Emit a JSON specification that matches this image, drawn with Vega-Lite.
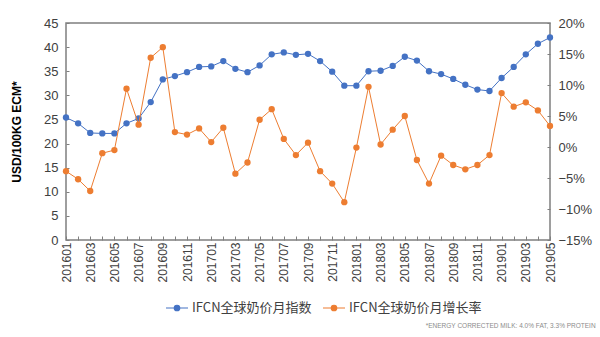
{
  "$schema": "https://vega.github.io/schema/vega-lite/v6.json",
  "autosize": "none",
  "width": 484,
  "height": 217,
  "padding": {"left": 66, "top": 23, "right": 50, "bottom": 97},
  "background": "white",
  "config": {
    "font": "Liberation Sans",
    "view": {"stroke": "#7f7f7f", "strokeWidth": 1.5},
    "axis": {"grid": false, "labelColor": "#404040", "domainColor": "#7f7f7f", "tickColor": "#7f7f7f"}
  },
  "title": {
    "text": "*ENERGY CORRECTED MILK: 4.0% FAT, 3.3% PROTEIN",
    "orient": "bottom",
    "anchor": "end",
    "fontSize": 6.5,
    "fontWeight": "normal",
    "color": "#8c8c8c",
    "dx": 4,
    "offset": 8
  },
  "datasets": {
    "milk": [
      {"month": "201601", "index": 25.4, "rate": -0.039},
      {"month": "201602", "index": 24.2, "rate": -0.052},
      {"month": "201603", "index": 22.2, "rate": -0.071},
      {"month": "201604", "index": 22.1, "rate": -0.010},
      {"month": "201605", "index": 22.1, "rate": -0.005},
      {"month": "201606", "index": 24.2, "rate": 0.094},
      {"month": "201607", "index": 25.2, "rate": 0.036},
      {"month": "201608", "index": 28.6, "rate": 0.144},
      {"month": "201609", "index": 33.3, "rate": 0.161},
      {"month": "201610", "index": 34.0, "rate": 0.024},
      {"month": "201611", "index": 34.8, "rate": 0.020},
      {"month": "201612", "index": 35.9, "rate": 0.030},
      {"month": "201701", "index": 36.0, "rate": 0.008},
      {"month": "201702", "index": 37.1, "rate": 0.031},
      {"month": "201703", "index": 35.5, "rate": -0.043},
      {"month": "201704", "index": 34.8, "rate": -0.025},
      {"month": "201705", "index": 36.2, "rate": 0.044},
      {"month": "201706", "index": 38.5, "rate": 0.061},
      {"month": "201707", "index": 38.9, "rate": 0.013},
      {"month": "201708", "index": 38.4, "rate": -0.013},
      {"month": "201709", "index": 38.6, "rate": 0.007},
      {"month": "201710", "index": 37.1, "rate": -0.039},
      {"month": "201711", "index": 34.9, "rate": -0.059},
      {"month": "201712", "index": 32.0, "rate": -0.089},
      {"month": "201801", "index": 32.0, "rate": -0.001},
      {"month": "201802", "index": 35.0, "rate": 0.097},
      {"month": "201803", "index": 35.1, "rate": 0.004},
      {"month": "201804", "index": 36.1, "rate": 0.028},
      {"month": "201805", "index": 38.0, "rate": 0.050},
      {"month": "201806", "index": 37.2, "rate": -0.021},
      {"month": "201807", "index": 35.0, "rate": -0.059},
      {"month": "201808", "index": 34.4, "rate": -0.014},
      {"month": "201809", "index": 33.4, "rate": -0.029},
      {"month": "201810", "index": 32.2, "rate": -0.036},
      {"month": "201811", "index": 31.2, "rate": -0.029},
      {"month": "201812", "index": 30.9, "rate": -0.013},
      {"month": "201901", "index": 33.6, "rate": 0.087},
      {"month": "201902", "index": 35.9, "rate": 0.065},
      {"month": "201903", "index": 38.5, "rate": 0.072},
      {"month": "201904", "index": 40.7, "rate": 0.059},
      {"month": "201905", "index": 42.0, "rate": 0.034}
    ]
  },
  "data": {"name": "milk"},
  "encoding": {
    "x": {
      "field": "month",
      "type": "ordinal",
      "scale": {"type": "point", "padding": 0},
      "axis": {
        "title": null,
        "labelAngle": -90,
        "labelFontSize": 12,
        "labelOverlap": false,
        "labelPadding": 6,
        "tickSize": -4,
        "domain": false,
        "labelExpr": "toNumber(substring(datum.value, 4, 6)) % 2 == 1 ? datum.value : ''"
      }
    }
  },
  "layer": [
    {
      "mark": {"type": "line", "point": {"filled": true, "size": 40}, "strokeWidth": 1},
      "encoding": {
        "y": {
          "field": "index",
          "type": "quantitative",
          "scale": {"domain": [0, 45]},
          "axis": {
            "title": "USD/100KG ECM*",
            "titleFontSize": 12,
            "titleFontWeight": "bold",
            "titleColor": "#000000",
            "titlePadding": 20,
            "values": [0, 5, 10, 15, 20, 25, 30, 35, 40, 45],
            "labelFontSize": 13,
            "tickSize": -3,
            "labelPadding": 11,
            "domain": false
          }
        },
        "color": {
          "datum": "IFCN全球奶价月指数",
          "type": "nominal",
          "scale": {"domain": ["IFCN全球奶价月指数", "IFCN全球奶价月增长率"], "range": ["#4472C4", "#ED7D31"]},
          "legend": {
            "title": null,
            "orient": "none",
            "legendX": 99,
            "legendY": 273,
            "padding": 0,
            "direction": "horizontal",
            "labelFont": "Noto Sans CJK SC",
            "labelFontSize": 13,
            "labelColor": "#404040",
            "labelOffset": 3,
            "symbolType": "M-1,0L1,0M0.25,0A0.25,0.25 0 1,1 -0.25,0A0.25,0.25 0 1,1 0.25,0Z",
            "symbolSize": 484,
            "symbolStrokeWidth": 1.2,
            "columnPadding": 8
          }
        }
      }
    },
    {
      "mark": {"type": "line", "point": {"filled": true, "size": 40}, "strokeWidth": 1},
      "encoding": {
        "y": {
          "field": "rate",
          "type": "quantitative",
          "scale": {"domain": [-0.15, 0.2]},
          "axis": {
            "title": null,
            "orient": "right",
            "format": ".0%",
            "values": [-0.15, -0.1, -0.05, 0, 0.05, 0.1, 0.15, 0.2],
            "labelFontSize": 13,
            "tickSize": -3,
            "labelPadding": 11,
            "domain": false
          }
        },
        "color": {"datum": "IFCN全球奶价月增长率", "type": "nominal"}
      }
    }
  ],
  "resolve": {"scale": {"y": "independent"}}
}
